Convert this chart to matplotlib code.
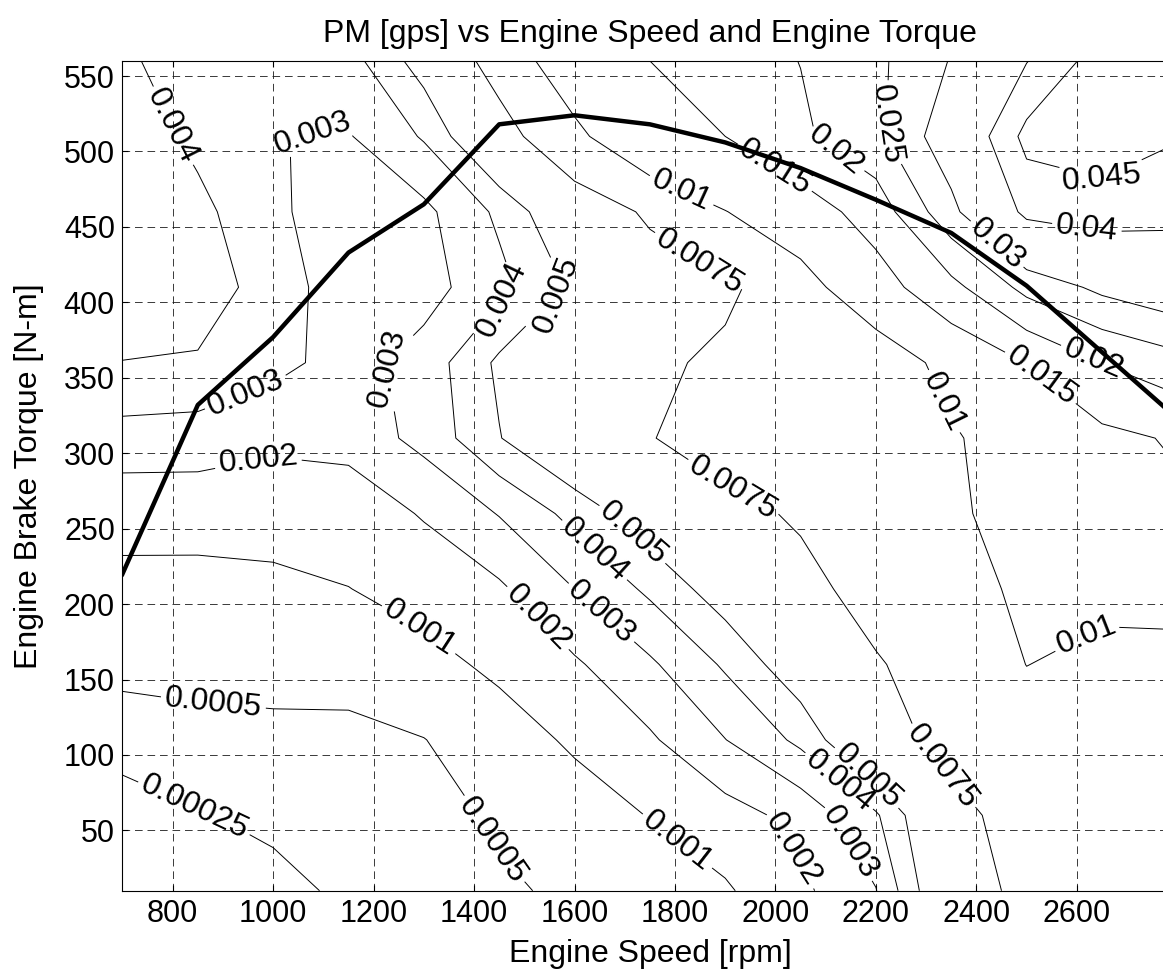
#!/usr/bin/env python3

"""PM emission map over engine speed and torque, with the full-load curve on top."""

import matplotlib
matplotlib.use("Agg")
from matplotlib import pyplot as plt
import numpy as np

plt.rcParams['font.family'] = ['Liberation Sans', 'DejaVu Sans']
plt.rcParams['lines.scale_dashes'] = False

# measurement grid
speed = [700, 850, 1000, 1150, 1300, 1450, 1600, 1750, 1900, 2050, 2200, 2350, 2500, 2650, 2800]
torque = [10, 60, 110, 160, 210, 260, 310, 360, 410, 460, 510, 560]

# PM [g/s], one row per torque value, one entry per speed
pm_t10 = [0.0001, 0.00015, 0.00017, 0.0003, 0.00035, 0.00046, 0.00055, 0.00068, 0.00088, 0.00178, 0.00296, 0.0065, 0.008, 0.0085, 0.009]
pm_t60 = [0.00017, 0.000233, 0.00031, 0.00032, 0.0004, 0.00054, 0.00075, 0.00102, 0.0016, 0.00231, 0.00386, 0.0068, 0.0085, 0.009, 0.0093]
pm_t110 = [0.00032, 0.00042, 0.00043, 0.00037, 0.00049, 0.00075, 0.00108, 0.00186, 0.00298, 0.00423, 0.00656, 0.0082, 0.0092, 0.0094, 0.0095]
pm_t160 = [0.0006, 0.00058, 0.0006, 0.0007, 0.00083, 0.00111, 0.00186, 0.00284, 0.00414, 0.00577, 0.0073, 0.0087, 0.01002, 0.0096, 0.0097]
pm_t210 = [0.00076, 0.00069, 0.00078, 0.00099, 0.0012, 0.00184, 0.003, 0.0042, 0.0056, 0.0068, 0.0084, 0.009, 0.0105, 0.0104, 0.01035]
pm_t260 = [0.0013, 0.00138, 0.0014, 0.00129, 0.0021, 0.00305, 0.00433, 0.0057, 0.0068, 0.0078, 0.0083, 0.0096, 0.011, 0.012, 0.0141]
pm_t310 = [0.0026, 0.0025, 0.0022, 0.0024, 0.0033, 0.00495, 0.0064, 0.0074, 0.0086, 0.0085, 0.008, 0.0096, 0.012, 0.0138, 0.0155]
pm_t360 = [0.00398, 0.00392, 0.0033, 0.0026, 0.0034, 0.0052, 0.006, 0.0072, 0.0078, 0.0086, 0.0077, 0.0112, 0.0151, 0.0201, 0.0232]
pm_t410 = [0.0046, 0.0044, 0.00366, 0.00226, 0.0026, 0.0037, 0.0052, 0.0065, 0.0072, 0.0085, 0.0129, 0.0185, 0.0265, 0.0312, 0.0341]
pm_t460 = [0.0047, 0.00428, 0.0032, 0.0024, 0.00275, 0.0042, 0.0062, 0.0078, 0.0099, 0.0125, 0.0171, 0.0285, 0.0415, 0.0431, 0.0419]
pm_t510 = [0.00468, 0.00374, 0.00302, 0.00293, 0.0041, 0.0066, 0.0094, 0.0124, 0.015, 0.0191, 0.0237, 0.0335, 0.0465, 0.0474, 0.0453]
pm_t560 = [0.0042, 0.0034, 0.0034, 0.0036, 0.0055, 0.0084, 0.0117, 0.015, 0.0175, 0.0201, 0.0239, 0.0303, 0.0398, 0.0475, 0.047]

levels = [0.00025, 0.0005, 0.001, 0.002, 0.003, 0.004, 0.005, 0.0075,
          0.01, 0.015, 0.02, 0.025, 0.03, 0.04, 0.045]

# full-load curve
max_speed = [700, 850, 1000, 1150, 1300, 1450, 1600, 1750, 1900, 2050, 2200, 2350, 2500, 2650, 2800]
max_torque = [220, 332, 377, 433, 465, 518, 524, 518, 506, 489, 468, 446, 411, 367, 323]

# where the inline labels sit (speed, torque), per level
label_spots = {
    0.00025: [(843, 65)],
    0.0005: [(880, 131), (1450, 46)],
    0.001: [(1290, 183), (1805, 43)],
    0.002: [(973, 291), (1525, 190), (2035, 37)],
    0.003: [(950, 336), (1079, 513), (1238, 357), (1650, 193), (2140, 40)],
    0.004: [(788, 515), (1452, 403), (1635, 234), (2120, 80)],
    0.005: [(1570, 403), (1720, 248), (2185, 86)],
    0.0075: [(1850, 428), (1920, 280), (2330, 92)],
    0.01: [(1810, 472), (2327, 333), (2615, 182)],
    0.015: [(2000, 490), (2520, 347)],
    0.02: [(2125, 503), (2631, 361)],
    0.025: [(2231, 518)],
    0.03: [(2437, 437)],
    0.04: [(2618, 445)],
    0.045: [(2660, 475)],
}

pm = np.array([pm_t10, pm_t60, pm_t110, pm_t160, pm_t210, pm_t260,
               pm_t310, pm_t360, pm_t410, pm_t460, pm_t510, pm_t560])

fig = plt.figure(figsize=(11.63, 9.77), dpi=100)
ax = fig.add_axes([0.1053, 0.0883, 0.907, 0.8493])
ax.set_xlim(700, 2800)
ax.set_ylim(10, 560)

# one contour set per level so each label lands on its own line
for lev in levels:
    cs = ax.contour(speed, torque, pm, levels=[lev], colors='k', linewidths=0.7)
    ax.clabel(cs, manual=label_spots[lev], fmt='%g', fontsize=23,
              inline=True, inline_spacing=4)

ax.plot(max_speed, max_torque, color='k', linewidth=3.2, zorder=5)

ax.set_xlim(700, 2800)
ax.set_ylim(10, 560)
ax.set_xticks(range(800, 2601, 200))
ax.set_yticks(range(50, 551, 50))
ax.tick_params(labelsize=22, direction='in', length=4, top=True, right=True)
ax.tick_params(axis='x', pad=6)
ax.tick_params(axis='y', pad=5.4)
ax.grid(True, color='0.1', linestyle=(0, (5.5, 3.5)), linewidth=0.6)
ax.set_axisbelow(True)
for side in ax.spines.values():
    side.set_linewidth(0.8)

ax.set_title('PM [gps] vs Engine Speed and Engine Torque', fontsize=23, pad=14)
ax.set_xlabel('Engine Speed [rpm]', fontsize=23, labelpad=7)
ax.set_ylabel('Engine Brake Torque [N-m]', fontsize=23, labelpad=14)

fig.savefig('out.png', dpi=100)
